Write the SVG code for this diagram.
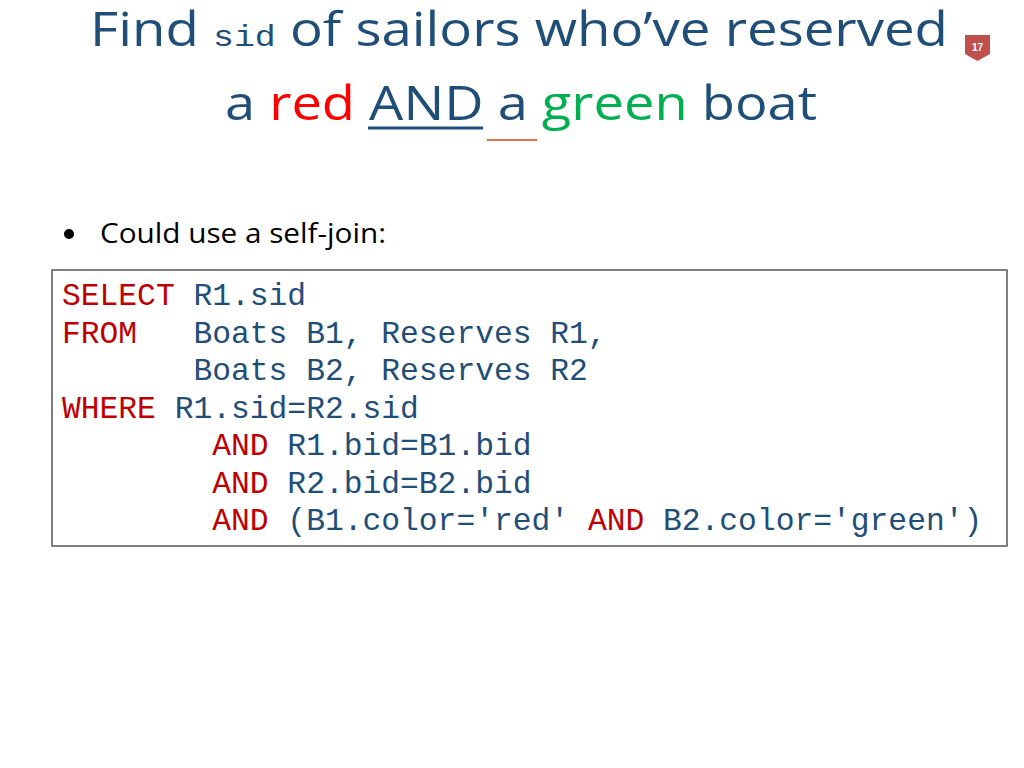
<svg xmlns="http://www.w3.org/2000/svg" width="1024" height="768" viewBox="0 0 1024 768">
<style>
.t{font-family:"Open Sans","Liberation Sans",sans-serif;fill:#1F4E79;font-size:47px}
.c{font-family:"Liberation Mono",monospace;font-size:31.3px;fill:#1F4E79}
.k{fill:#C00000}
</style>
<rect width="1024" height="768" fill="#fff"/>
<g id="title">
<text class="t" x="90" y="46" textLength="858" lengthAdjust="spacingAndGlyphs">Find <tspan style="font-family:'Liberation Mono',monospace;font-size:30px">sid</tspan> of sailors who’ve reserved</text>
<text class="t" x="225" y="120" textLength="592" lengthAdjust="spacingAndGlyphs">a <tspan fill="#FF0000">red</tspan> AND a <tspan fill="#00B050">green</tspan> boat</text>
<line x1="368" y1="128" x2="483" y2="128" stroke="#1F4E79" stroke-width="3"/>
<line x1="487" y1="140" x2="537" y2="140" stroke="#E07050" stroke-width="2"/>
</g>
<g id="badge">
<path d="M965 35 H990 V54 L977.5 61 L965 54 Z" fill="#C0504D"/>
<text x="977.5" y="51" font-family="Liberation Sans,sans-serif" font-size="10" font-weight="bold" fill="#fff" text-anchor="middle">17</text>
</g>
<g id="bullet">
<circle cx="69" cy="234" r="5" fill="#000"/>
<text x="100" y="243" font-family="'Open Sans','Liberation Sans',sans-serif" font-size="27" fill="#000" textLength="286" lengthAdjust="spacingAndGlyphs">Could use a self-join:</text>
</g>
<g id="code">
<rect x="52" y="270" width="955" height="276" fill="#fff" stroke="#555" stroke-width="1.5"/>
<text class="c" x="62" y="305" xml:space="preserve"><tspan class="k">SELECT</tspan> R1.sid</text>
<text class="c" x="62" y="343" xml:space="preserve"><tspan class="k">FROM</tspan>   Boats B1, Reserves R1,</text>
<text class="c" x="62" y="380" xml:space="preserve">       Boats B2, Reserves R2</text>
<text class="c" x="62" y="418" xml:space="preserve"><tspan class="k">WHERE</tspan> R1.sid=R2.sid</text>
<text class="c" x="62" y="455" xml:space="preserve">        <tspan class="k">AND</tspan> R1.bid=B1.bid</text>
<text class="c" x="62" y="493" xml:space="preserve">        <tspan class="k">AND</tspan> R2.bid=B2.bid</text>
<text class="c" x="62" y="530" xml:space="preserve">        <tspan class="k">AND</tspan> (B1.color='red' <tspan class="k">AND</tspan> B2.color='green')</text>
</g>
</svg>
